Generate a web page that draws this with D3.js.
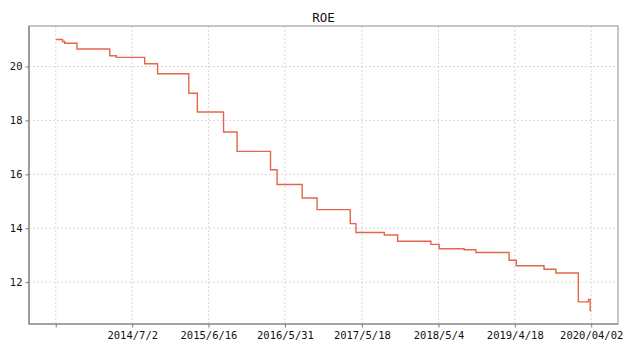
<!DOCTYPE html>
<html>
<head>
<meta charset="utf-8">
<script src="https://cdn.jsdelivr.net/npm/d3@7"></script>
<style>
  html, body { margin: 0; padding: 0; background: #fff; }
  svg text { font-family: "DejaVu Sans Mono", "Liberation Mono", monospace; fill: #111; }
</style>
</head>
<body>
<div id="chart"></div>
<script>
/** Chart data: dates where ROE changes and the value from that date on */
const dates = [
  "2013-07-17", "2013-08-17", "2013-08-27", "2013-10-22", "2014-03-21", "2014-04-20",
  "2014-08-28", "2014-10-26", "2015-03-18", "2015-04-26", "2015-08-24", "2015-10-25",
  "2016-03-26", "2016-04-25", "2016-08-18", "2016-10-25", "2017-03-26", "2017-04-21",
  "2017-08-29", "2017-10-29", "2018-03-30", "2018-05-07", "2018-08-29", "2018-10-22",
  "2019-03-23", "2019-04-25", "2019-08-30", "2019-10-23", "2020-02-03", "2020-03-20",
  "2020-03-28", "2020-04-02"
];
const roe = [
  21.0, 20.93, 20.86, 20.65, 20.4, 20.34,
  20.1, 19.73, 19.01, 18.31, 17.57, 16.85,
  16.17, 15.62, 15.12, 14.69, 14.17, 13.84,
  13.75, 13.52, 13.4, 13.24, 13.2, 13.1,
  12.81, 12.61, 12.48, 12.34, 11.27, 11.36,
  10.95, 10.95
];

/** Tick positions and labels (first tick has no label) */
const tickDates = ["2013-07-17", "2014-07-02", "2015-06-16", "2016-05-31", "2017-05-18", "2018-05-04", "2019-04-18", "2020-04-02"];
const tickLabels = ["", "2014/7/2", "2015/6/16", "2016/5/31", "2017/5/18", "2018/5/4", "2019/4/18", "2020/04/02"];
const yTicks = [12, 14, 16, 18, 20];

/** Graph configs */
const width = 640;
const height = 358;
const margin = { top: 26, right: 22, bottom: 34, left: 29 };
const innerWidth = width - margin.left - margin.right;
const innerHeight = height - margin.top - margin.bottom;

const parse = d3.timeParse("%Y-%m-%d");
const data = dates.map((d, i) => ({ date: parse(d), value: roe[i] }));

/** Scales with 5% padding on both sides, like the original plot */
const [x0, x1] = d3.extent(data, (d) => d.date);
const xPad = (x1 - x0) * 0.05;
const xScale = d3
  .scaleTime()
  .domain([new Date(+x0 - xPad), new Date(+x1 + xPad)])
  .range([0, innerWidth]);

const [y0, y1] = d3.extent(roe);
const yPad = (y1 - y0) * 0.05;
const yScale = d3
  .scaleLinear()
  .domain([y0 - yPad, y1 + yPad])
  .range([innerHeight, 0]);

const svg = d3
  .select("#chart")
  .append("svg")
  .attr("width", width)
  .attr("height", height);

const g = svg.append("g").attr("transform", `translate(${margin.left},${margin.top})`);

/** Grid lines */
g.append("g")
  .selectAll("line")
  .data(tickDates.map(parse))
  .join("line")
  .attr("x1", (d) => xScale(d))
  .attr("x2", (d) => xScale(d))
  .attr("y1", 0)
  .attr("y2", innerHeight)
  .attr("stroke", "#cfcfcf")
  .attr("stroke-width", 0.8)
  .attr("stroke-dasharray", "2,2");

g.append("g")
  .selectAll("line")
  .data(yTicks)
  .join("line")
  .attr("x1", 0)
  .attr("x2", innerWidth)
  .attr("y1", (d) => yScale(d))
  .attr("y2", (d) => yScale(d))
  .attr("stroke", "#cfcfcf")
  .attr("stroke-width", 0.8)
  .attr("stroke-dasharray", "2,2");

/** Axes */
const xAxis = d3
  .axisBottom(xScale)
  .tickValues(tickDates.map(parse))
  .tickFormat((_, i) => tickLabels[i])
  .tickSizeOuter(0)
  .tickSize(3.5)
  .tickPadding(4);

const yAxis = d3
  .axisLeft(yScale)
  .tickValues(yTicks)
  .tickFormat(d3.format("d"))
  .tickSizeOuter(0)
  .tickSize(3.5)
  .tickPadding(3);

const gx = g.append("g").attr("transform", `translate(0,${innerHeight})`).call(xAxis);
const gy = g.append("g").call(yAxis);

[gx, gy].forEach((ax) => {
  ax.attr("font-family", null);
  ax.select(".domain").remove();
  ax.selectAll(".tick line").attr("stroke", "#555").attr("stroke-width", 0.8);
  ax.selectAll(".tick text").attr("font-size", 10.5).attr("fill", "#111");
});

/** Frame: left/bottom spines darker than top/right */
g.append("rect")
  .attr("x", 0)
  .attr("y", 0)
  .attr("width", innerWidth)
  .attr("height", innerHeight)
  .attr("fill", "none")
  .attr("stroke", "#a0a0a0")
  .attr("stroke-width", 1.2);

g.append("path")
  .attr("d", `M0,0V${innerHeight}H${innerWidth}`)
  .attr("fill", "none")
  .attr("stroke", "#808080")
  .attr("stroke-width", 1.2);

/** ROE line */
const line = d3
  .line()
  .x((d) => xScale(d.date))
  .y((d) => yScale(d.value))
  .curve(d3.curveStepAfter);

g.append("path")
  .datum(data)
  .attr("d", line)
  .attr("fill", "none")
  .attr("stroke", "#e5654c")
  .attr("stroke-width", 1.4);

/** Title */
svg.append("text")
  .attr("x", margin.left + innerWidth / 2)
  .attr("y", 22)
  .attr("text-anchor", "middle")
  .attr("font-size", 12.5)
  .text("ROE");
</script>
</body>
</html>
